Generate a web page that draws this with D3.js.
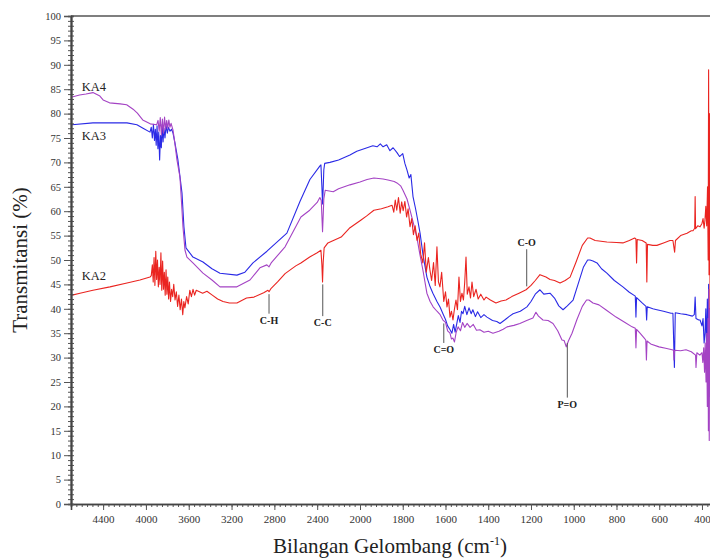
<!DOCTYPE html>
<html>
<head>
<meta charset="utf-8">
<script src="https://cdn.jsdelivr.net/npm/d3@7"></script>
<style>
  body { margin: 0; background: #fff; }
  svg { display: block; }
</style>
</head>
<body>
<svg id="chart" width="710" height="558"></svg>
<script>
// [wavenumber cm-1, transmittance %]
const ka4 = [[4690,83.4],[4620,83.8],[4560,84.0],[4495,84.3],[4430,83.6],[4400,82.8],[4340,82.2],[4240,82.0],[4180,81.8],[4120,80.9],[4080,80.1],[4030,78.7],[3960,77.9],[3900,77.7],[3887,78.6],[3876,76.4],[3866,79.2],[3856,75.6],[3846,78.9],[3836,76.0],[3826,79.3],[3816,76.8],[3806,78.6],[3796,77.0],[3786,78.7],[3776,77.2],[3765,78.0],[3747,76.6],[3730,74.0],[3710,70.5],[3682,67.0],[3663,60.2],[3654,56.8],[3635,52.0],[3617,50.6],[3561,49.4],[3467,47.3],[3383,45.9],[3308,44.5],[3150,44.5],[3028,45.9],[2935,48.4],[2870,49.0],[2850,48.6],[2830,49.4],[2700,52.7],[2552,58.8],[2470,60.2],[2400,61.8],[2375,62.8],[2362,62.2],[2356,59],[2350,55.8],[2345,58.5],[2338,62.5],[2325,64.3],[2300,64.2],[2250,64],[2200,64.6],[2094,65.4],[2000,66],[1967,66.5],[1935,66.8],[1892,66.6],[1869,66.4],[1840,66.1],[1827,65.8],[1810,65.2],[1799,64.3],[1780,62.5],[1766,60.2],[1750,57.5],[1734,54.7],[1720,51.2],[1706,48],[1687,43.2],[1672,41.5],[1658,40.4],[1640,39.5],[1625,38.8],[1612,37.7],[1600,37.2],[1590,35.5],[1579,35],[1572,33.8],[1565,34],[1558,33.2],[1550,35.2],[1541,36.3],[1530,35.5],[1520,37.2],[1510,36.2],[1499,37],[1485,36.2],[1470,36.8],[1455,35.6],[1439,35.7],[1420,35.2],[1400,35.4],[1378,35],[1350,35.4],[1330,35.8],[1312,36.3],[1280,36.6],[1252,37],[1220,37.6],[1191,38.1],[1177,39.3],[1165,38.5],[1144,37.7],[1120,37.6],[1097,37],[1075,35.5],[1055,33.6],[1045,33.5],[1035,32.2],[1025,33.4],[1008,35],[985,37.8],[960,40.5],[940,41.8],[929,41.8],[910,41.2],[882,40.8],[850,39.8],[802,38.3],[760,37.2],[727,36.3],[712,36],[709,32],[706,35.8],[690,35],[670,34],[663,33.6],[660,29.5],[657,33.4],[640,32.8],[601,32.2],[570,31.9],[540,31.6],[533,31.5],[531,29.5],[528,31.5],[500,31.4],[475,31.6],[450,31.2],[430,30.5],[428,28],[424,31],[410,30.5],[400,31],[396,29],[392,32],[388,27],[385,33],[381,25],[378,35],[375,20],[372,38],[370,15],[368,44],[366,13],[364,40],[362,25],[360,30]]

const ka3 = [[4690,77.7],[4495,78.1],[4336,78.1],[4177,78.1],[4084,77.7],[4027,77.0],[3962,76.2],[3950,77.2],[3940,75.0],[3930,77.8],[3920,74.5],[3912,76.8],[3904,73.5],[3896,77.5],[3888,72.8],[3880,76.2],[3872,70.5],[3864,75.5],[3856,73],[3848,77.8],[3840,74.2],[3832,77],[3822,75],[3812,77.6],[3800,76],[3790,77.2],[3775,76.4],[3760,76.8],[3747,76],[3729,74],[3701,70.5],[3663,63.7],[3645,56.8],[3626,52.5],[3561,50.6],[3467,49.6],[3383,48.2],[3308,47.3],[3150,46.9],[3075,47.5],[3000,49.4],[2869,51.8],[2683,55.5],[2561,62],[2468,66.5],[2374,69.3],[2365,69.5],[2356,65],[2350,61.5],[2345,64],[2338,68.5],[2330,69.8],[2281,70],[2200,70.5],[2094,71.5],[2030,72.3],[1967,73],[1940,73.4],[1920,73.2],[1905,73.8],[1892,73.2],[1875,73.6],[1860,72.4],[1845,73],[1827,72],[1815,71.2],[1800,71.8],[1790,69.8],[1780,68.4],[1770,66.8],[1762,67.5],[1752,63],[1740,60.5],[1730,58.2],[1719,55.5],[1705,51],[1687,46.5],[1672,44.5],[1659,43.2],[1640,41.5],[1625,40.3],[1612,39],[1600,37.8],[1590,36.5],[1580,35.8],[1570,35],[1562,36.8],[1555,35.2],[1547,37],[1540,38.6],[1532,37.2],[1525,39.5],[1518,39],[1510,40.5],[1500,38.8],[1490,40.2],[1480,39],[1472,39.8],[1460,38.4],[1450,39.4],[1435,38.2],[1420,38.8],[1406,38.3],[1380,37.6],[1360,37.4],[1345,37],[1320,37.8],[1300,38.5],[1284,39],[1250,39.5],[1219,40.4],[1200,41.5],[1180,43],[1158,43.9],[1140,43],[1111,43.2],[1090,42.2],[1070,40.6],[1050,39.8],[1030,40.6],[1003,41.8],[980,45],[955,48.5],[935,50],[924,50],[910,49.8],[891,49.4],[870,48.2],[845,47.3],[810,45.8],[770,44.5],[740,43.4],[712,42.6],[709,38.3],[706,42.3],[680,41.2],[662,40.5],[659,37.7],[656,40.4],[630,40],[611,39.8],[580,39.5],[545,39.1],[536,39.1],[529,28],[525,39.2],[500,39],[470,38.8],[445,38.5],[436,38.8],[432,42.4],[428,38],[415,37.7],[409,37.7],[400,36.5],[395,38],[390,33],[386,35],[382,40],[378,30],[375,42],[372,27],[369,45],[367,22],[364,38],[361,30]]

const ka2 = [[4690,42.8],[4616,43.2],[4495,43.8],[4336,44.5],[4177,45.3],[4056,45.9],[3962,46.5],[3950,46.8],[3940,49],[3932,45.5],[3924,50.5],[3916,44.8],[3908,51.8],[3900,46],[3892,50],[3884,44.5],[3876,48.5],[3868,45],[3860,51.5],[3852,43.8],[3844,49.8],[3836,44],[3828,47.5],[3820,42.8],[3812,48],[3804,43],[3796,46.5],[3788,42],[3780,45.5],[3770,41.5],[3760,44],[3750,42.5],[3740,45],[3728,41.8],[3716,43.5],[3704,40.5],[3692,42.8],[3680,39.8],[3668,42],[3656,38.8],[3646,41.5],[3636,40.2],[3620,42.5],[3605,41],[3590,43.8],[3575,42.5],[3560,44],[3545,42.8],[3530,43.8],[3500,43.5],[3470,43.2],[3430,43.6],[3380,42.8],[3330,42],[3280,41.5],[3220,41.2],[3150,41.2],[3060,42.2],[2990,42.4],[2900,43.3],[2860,43.8],[2850,43.5],[2830,44.2],[2770,45.5],[2700,47.2],[2600,48.8],[2552,49.4],[2470,50.6],[2400,51.5],[2365,52],[2356,49],[2350,45.5],[2344,49.5],[2335,52.5],[2300,53.5],[2176,54.7],[2100,56.5],[1995,58.2],[1970,59.0],[1935,60.2],[1900,60.5],[1869,60.9],[1850,61.2],[1842,59.8],[1835,62.3],[1828,60.2],[1820,62.8],[1812,59.6],[1805,61.9],[1798,60.1],[1790,62],[1782,58.8],[1775,60.5],[1766,56.8],[1758,58.5],[1750,55.2],[1742,57],[1733,54],[1725,55.5],[1716,51.2],[1706,49.4],[1698,53.5],[1690,47.5],[1680,50.5],[1673,48],[1665,45.8],[1656,49.5],[1648,44.8],[1640,52.7],[1633,45.5],[1626,44.5],[1618,47.5],[1608,41.5],[1600,43.5],[1593,40.4],[1586,42],[1579,38.3],[1572,39.5],[1565,37.7],[1558,40],[1551,41.8],[1544,39.8],[1537,46.5],[1530,41.5],[1523,43.2],[1516,41.8],[1510,45.5],[1504,50.6],[1498,43],[1490,44.5],[1483,42.2],[1476,45.5],[1468,42.5],[1457,44],[1447,42],[1435,43],[1420,41.8],[1410,42.4],[1390,41.8],[1364,41.2],[1340,41.6],[1317,41.8],[1290,42.5],[1256,43.2],[1223,43.9],[1200,44.8],[1180,45.8],[1158,47],[1130,46.5],[1111,46],[1090,45.8],[1064,45.3],[1040,45.8],[1017,46.5],[990,49.5],[960,53],[935,54.5],[924,54.5],[900,54],[845,53.7],[800,53.6],[770,53.5],[740,54],[715,54.5],[709,54.3],[706,49.4],[703,54.2],[680,54],[661,53.5],[658,45.5],[655,53.2],[630,53],[611,53],[580,53.5],[550,54],[536,54],[528,51.6],[524,54],[500,55],[470,55.5],[450,56],[442,56],[434,56.5],[432,63],[430,56.4],[420,57],[409,56.8],[400,57.5],[395,58.5],[390,56.5],[386,58.2],[382,61],[378,57],[374,65],[371,50],[369,89],[367,47],[365,80],[362,40],[360,60]]

const seriesNames = ['KA3', 'KA4', 'KA2']
const seriesColors = ['#2a2ae6', '#a443c4', '#ea2420']

const xMajorTicks = [4400, 4000, 3600, 3200, 2800, 2400, 2000, 1800, 1600, 1400, 1200, 1000, 800, 600, 400]
const yMajorTicks = d3.range(0, 101, 5)

// peak annotations: [label, wavenumber, line top %, line bottom %, label above?]
const peaks = [
  ['C-H', 2850, 43.0, 39.0, false],
  ['C-C', 2348, 45.0, 38.5, false],
  ['C=O', 1608, 37.0, 33.0, false],
  ['C-O', 1220, 52.2, 44.6, true],
  ['P=O', 1030, 33.0, 21.8, false],
]

// label anchors: [wavenumber, baseline %]
const seriesLabelPos = [[4600, 74.5], [4600, 84.7], [4600, 46.0]]

const width = 710
const height = 558
const font = '"Liberation Serif", "Times New Roman", serif'

// the axis is compressed above 2000 cm-1 (two linear pieces)
const x = d3.scaleLinear().domain([4700, 2000, 355]).range([71, 360, 711.6])
const y = d3.scaleLinear().domain([0, 100]).range([504, 16])

const svg = d3.select('#chart')

svg.append('rect').attr('width', width).attr('height', height).attr('fill', '#fff')

svg.append('defs')
  .append('clipPath')
  .attr('id', 'plotclip')
  .append('rect')
  .attr('x', 72)
  .attr('y', 16)
  .attr('width', width - 72)
  .attr('height', 488)

// lines
const line = d3.line().x((d) => x(d[0])).y((d) => y(d[1]))
const linesLayer = svg.append('g').attr('clip-path', 'url(#plotclip)')
;[ka3, ka4, ka2].forEach((s, i) => {
  linesLayer.append('path')
    .datum(s)
    .attr('d', line)
    .attr('fill', 'none')
    .attr('stroke', seriesColors[i])
    .attr('stroke-width', 1.1)
    .attr('stroke-linejoin', 'round')
})

// frame top line
svg.append('line')
  .attr('x1', 71).attr('x2', width).attr('y1', 16).attr('y2', 16)
  .attr('stroke', '#555').attr('stroke-width', 1.5)

// x axis
const xMinor = d3.range(4650, 2000, -50).concat(d3.range(2000, 355, -25))
const xAxisG = svg.append('g').attr('transform', `translate(0,${y(0)})`)
xAxisG.append('g')
  .call(d3.axisBottom(x).tickValues(xMinor).tickSize(3).tickFormat(''))
xAxisG.append('g')
  .call(d3.axisBottom(x).tickValues(xMajorTicks).tickSize(6).tickPadding(5).tickFormat(d3.format('d')))
xAxisG.selectAll('.domain').attr('stroke', '#444').attr('stroke-width', 1.6)
xAxisG.selectAll('.tick line').attr('stroke', '#555')
xAxisG.selectAll('text')
  .attr('font-family', font)
  .attr('font-size', 11)
  .attr('fill', '#333')

// y axis
const yAxisG = svg.append('g').attr('transform', `translate(${x(4700)},0)`)
yAxisG.append('g')
  .call(d3.axisLeft(y).tickValues(d3.range(0, 101, 1)).tickSize(3).tickFormat(''))
yAxisG.append('g')
  .call(d3.axisRight(y).tickValues(d3.range(0, 101, 1)).tickSize(3).tickFormat(''))
yAxisG.append('g')
  .call(d3.axisLeft(y).tickValues(yMajorTicks).tickSize(7).tickPadding(3))
yAxisG.selectAll('.domain').attr('stroke', '#444').attr('stroke-width', 1.6)
yAxisG.selectAll('.tick line').attr('stroke', '#555')
yAxisG.selectAll('text')
  .attr('font-family', font)
  .attr('font-size', 10.5)
  .attr('fill', '#333')

// axis titles
svg.append('text')
  .attr('transform', `translate(27,${(y(0) + y(100)) / 2}) rotate(-90)`)
  .attr('text-anchor', 'middle')
  .attr('font-family', font)
  .attr('font-size', 21)
  .attr('fill', '#222')
  .text('Transmitansi (%)')

const xTitle = svg.append('text')
  .attr('x', 390)
  .attr('y', 553)
  .attr('text-anchor', 'middle')
  .attr('font-family', font)
  .attr('font-size', 21)
  .attr('fill', '#222')
xTitle.append('tspan').text('Bilangan Gelombang (cm')
xTitle.append('tspan').attr('font-size', 12).attr('dy', -8).text('-1')
xTitle.append('tspan').attr('dy', 8).text(')')

// series labels near the left end
svg.append('g')
  .selectAll('text')
  .data(seriesNames)
  .join('text')
  .attr('x', (d, i) => x(seriesLabelPos[i][0]))
  .attr('y', (d, i) => y(seriesLabelPos[i][1]))
  .attr('font-family', font)
  .attr('font-size', 12.5)
  .attr('fill', '#222')
  .text((d) => d)

// peak markers
const peakG = svg.append('g')
peakG.selectAll('line')
  .data(peaks)
  .join('line')
  .attr('x1', (d) => x(d[1]))
  .attr('x2', (d) => x(d[1]))
  .attr('y1', (d) => y(d[2]))
  .attr('y2', (d) => y(d[3]))
  .attr('stroke', '#555')
  .attr('stroke-width', 1)
peakG.selectAll('text')
  .data(peaks)
  .join('text')
  .attr('x', (d) => x(d[1]))
  .attr('y', (d) => (d[4] ? y(d[2]) - 3 : y(d[3]) + 10))
  .attr('text-anchor', 'middle')
  .attr('font-family', font)
  .attr('font-size', 10)
  .attr('font-weight', 'bold')
  .attr('fill', '#222')
  .text((d) => d[0])
</script>
</body>
</html>
